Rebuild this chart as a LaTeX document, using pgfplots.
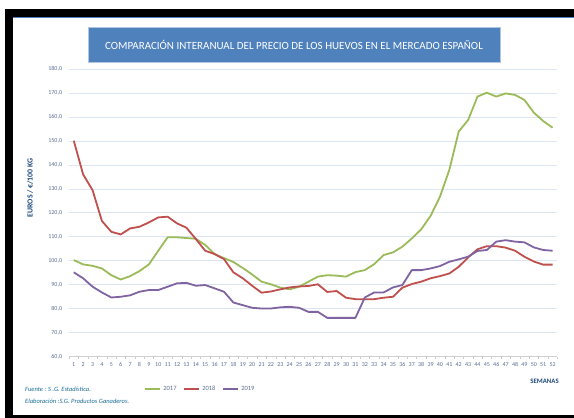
\documentclass[border=0pt]{standalone}
\usepackage{pgfplots}
\pgfplotsset{compat=1.18}
\usepackage{fontspec}
\setmainfont{Carlito}
\definecolor{g17}{HTML}{9BBB59}
\definecolor{r18}{HTML}{C0504D}
\definecolor{p19}{HTML}{8064A2}
\definecolor{gridc}{HTML}{DCE6F2}
\definecolor{tickc}{HTML}{5A6E94}
\definecolor{dblue}{HTML}{1F497D}
\definecolor{boxblue}{HTML}{4F81BD}
\begin{document}
\begin{tikzpicture}[x=1pt,y=1pt]
\fill[black] (5,0) rectangle (574,409);
\fill[white] (13,3) rectangle (574,401);
\draw[boxblue,line width=0.8pt] (13,400.6) -- (574,400.6);
\begin{axis}[
  at={(68.6pt,61.3pt)}, anchor=south west,
  scale only axis, width=488.7pt, height=287.7pt,
  xmin=0.45, xmax=52.5, ymin=60, ymax=180,
  axis line style={draw=none},
  xtick pos=bottom, ytick pos=left,
  xtick={1,...,52},
  minor xtick={0.5,1.5,...,52.5},
  major tick length=0pt,
  minor tick length=2.5pt,
  tick align=outside,
  minor tick style={draw=gray!40},
  ytick={60,70,...,180},
  ymajorgrids, grid style={gridc,line width=0.7pt},
  yticklabel={\pgfmathprintnumber[fixed,fixed zerofill,precision=1,use comma]{\tick}},
  yticklabel style={font=\fontsize{6}{7}\selectfont,text=tickc,xshift=-3pt},
  xticklabel style={font=\fontsize{6}{7}\selectfont,text=tickc,yshift=-2pt},
  /pgf/number format/assume math mode=true,
  clip=false,
  legend columns=3,
  legend style={at={(axis description cs:0.27,-0.112)},anchor=center,draw=none,fill=none,
    font=\fontsize{6.5}{8}\selectfont,text=tickc,
    /tikz/every even column/.append style={column sep=5pt}},
  legend image code/.code={\draw[#1,line width=1.8pt] (0pt,0pt) -- (15pt,0pt);},
  every axis plot/.append style={line width=1.8pt,line join=round,no markers},
]
\draw[gray!35,line width=0.6pt] (axis cs:0.45,60) -- (axis cs:52.5,60);
\addplot[g17] coordinates {
(1,100.3)(2,98.5)(3,97.9)(4,96.8)(5,94.0)(6,92.2)(7,93.6)(8,95.7)(9,98.5)(10,104.2)
(11,109.8)(12,109.8)(13,109.5)(14,109.2)(15,106.6)(16,102.8)(17,101.1)(18,99.5)(19,97.0)(20,94.3)
(21,91.3)(22,90.2)(23,88.8)(24,88.1)(25,89.2)(26,91.3)(27,93.4)(28,94.0)(29,93.8)(30,93.4)
(31,95.3)(32,96.1)(33,98.6)(34,102.4)(35,103.5)(36,105.9)(37,109.3)(38,113.1)(39,118.7)(40,126.7)
(41,137.9)(42,153.9)(43,158.7)(44,168.5)(45,170.1)(46,168.5)(47,169.8)(48,169.2)(49,167.1)(50,161.8)
(51,158.3)(52,155.5)};
\addlegendentry{2017}
\addplot[r18] coordinates {
(1,150.1)(2,136.0)(3,129.5)(4,116.6)(5,112.1)(6,111.0)(7,113.5)(8,114.2)(9,116.0)(10,118.1)
(11,118.4)(12,115.6)(13,113.8)(14,109.1)(15,104.2)(16,102.8)(17,100.7)(18,95.2)(19,92.7)(20,89.6)
(21,86.7)(22,87.2)(23,88.1)(24,88.9)(25,89.3)(26,89.5)(27,90.2)(28,87.0)(29,87.4)(30,84.6)
(31,84.0)(32,84.0)(33,84.0)(34,84.6)(35,85.0)(36,88.8)(37,90.3)(38,91.3)(39,92.7)(40,93.6)
(41,94.7)(42,97.5)(43,101.4)(44,104.8)(45,106.1)(46,106.1)(47,105.5)(48,104.2)(49,101.7)(50,99.7)
(51,98.4)(52,98.4)};
\addlegendentry{2018}
\addplot[p19] coordinates {
(1,95.2)(2,92.7)(3,89.2)(4,86.8)(5,84.7)(6,85.0)(7,85.6)(8,87.1)(9,87.8)(10,87.8)
(11,89.2)(12,90.6)(13,90.8)(14,89.6)(15,89.9)(16,88.5)(17,87.1)(18,82.6)(19,81.5)(20,80.4)
(21,80.1)(22,80.1)(23,80.6)(24,80.8)(25,80.4)(26,78.7)(27,78.7)(28,76.2)(29,76.2)(30,76.2)
(31,76.2)(32,84.7)(33,86.8)(34,86.8)(35,88.9)(36,89.9)(37,96.1)(38,96.1)(39,96.8)(40,97.8)
(41,99.6)(42,100.6)(43,101.7)(44,104.1)(45,104.5)(46,108.0)(47,108.6)(48,108.0)(49,107.7)(50,105.6)
(51,104.5)(52,104.2)};
\addlegendentry{2019}
\end{axis}
\node[fill=boxblue,draw=boxblue!45,line width=0.8pt,minimum width=412pt,minimum height=35pt,inner sep=0pt,
  text=white,font=\fontsize{11}{13}\selectfont] at (294,373.5)
  {COMPARACIÓN INTERANUAL DEL PRECIO DE LOS HUEVOS EN EL MERCADO ESPAÑOL};
\node[rotate=90,text=dblue,font=\fontsize{7.8}{9}\selectfont\bfseries] at (30,230) {EUROS / €/100 KG};
\node[anchor=east,text=dblue,font=\fontsize{6.8}{8}\selectfont\bfseries,inner sep=0pt] at (559,37) {SEMANAS};
\node[anchor=west,text=dblue!80!cyan,font=\fontsize{6.5}{7}\selectfont\itshape,inner sep=0pt] at (25,29) {Fuente : S .G. Estadística.};
\node[anchor=west,text=dblue!80!cyan,font=\fontsize{6.5}{7}\selectfont\itshape,inner sep=0pt] at (25,17) {Elaboración :S.G. Productos Ganaderos.};
\pgfresetboundingbox
\useasboundingbox (0,0) rectangle (574,418);
\end{tikzpicture}
\end{document}
